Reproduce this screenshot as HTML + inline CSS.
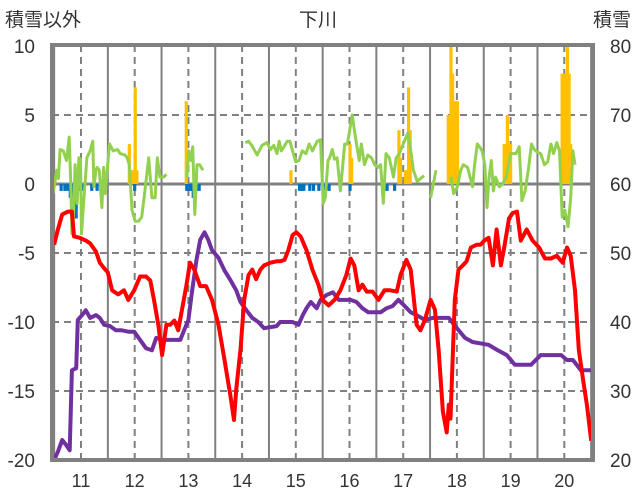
<!DOCTYPE html>
<html><head><meta charset="utf-8"><style>
html,body{margin:0;padding:0;background:#fff;}
svg{display:block;font-family:"Liberation Sans","Noto Sans CJK JP",sans-serif;}
</style></head><body>
<svg id="chart" width="636" height="501" viewBox="0 0 636 501" xmlns="http://www.w3.org/2000/svg">
<text x="5" y="26" font-size="19" fill="#333">積雪以外</text>
<text x="318" y="26" font-size="19" fill="#333" text-anchor="middle">下川</text>
<text x="631" y="26" font-size="19" fill="#333" text-anchor="end">積雪</text>
<g id="grid"></g><g id="bars"></g><g id="lines"></g><g id="axes"></g>
</svg>
<script>
const xTicks=[11,12,13,14,15,16,17,18,19,20];
const yTicksLeft=[10,5,0,-5,-10,-15,-20];
const yTicksRight=[80,70,60,50,40,30,20];
const redT=[10.50,10.57,10.65,10.76,10.83,10.87,10.98,11.09,11.17,11.28,11.35,11.43,11.50,11.58,11.69,11.80,11.88,11.99,12.10,12.21,12.29,12.36,12.44,12.51,12.59,12.66,12.74,12.81,12.88,12.96,13.03,13.11,13.22,13.33,13.44,13.56,13.67,13.78,13.85,13.89,13.97,14.04,14.12,14.19,14.26,14.34,14.41,14.53,14.64,14.71,14.79,14.86,14.94,15.01,15.09,15.20,15.31,15.42,15.50,15.61,15.72,15.83,15.94,16.02,16.09,16.17,16.24,16.32,16.43,16.54,16.65,16.76,16.88,16.95,17.06,17.14,17.25,17.32,17.40,17.51,17.59,17.66,17.74,17.81,17.85,17.88,17.96,18.03,18.11,18.18,18.26,18.37,18.44,18.51,18.59,18.67,18.74,18.82,18.89,18.97,19.04,19.12,19.19,19.30,19.41,19.53,19.64,19.75,19.86,19.97,20.05,20.12,20.20,20.27,20.35,20.42,20.50];
const redV=[-4.4,-3.3,-2.2,-2.0,-2.0,-3.8,-3.9,-4.1,-4.3,-4.9,-5.7,-6.1,-6.4,-7.7,-8.0,-7.7,-8.4,-7.7,-6.7,-6.7,-7.0,-8.4,-10.2,-12.4,-10.2,-10.2,-9.9,-10.6,-9.1,-7.4,-5.7,-6.2,-7.4,-7.4,-8.4,-10.2,-12.7,-15.3,-17.1,-14.9,-12.0,-8.4,-6.6,-6.2,-6.9,-6.2,-5.9,-5.7,-5.6,-5.6,-5.5,-4.8,-3.7,-3.5,-3.8,-4.8,-6.2,-7.3,-8.4,-8.8,-8.4,-7.7,-6.6,-5.4,-5.9,-7.7,-7.3,-7.8,-7.8,-8.4,-7.7,-7.7,-7.8,-6.6,-5.5,-6.2,-10.2,-10.6,-9.9,-8.4,-9.1,-12.0,-16.5,-18.0,-16.0,-17.0,-8.4,-6.2,-5.9,-5.6,-4.6,-4.4,-4.4,-4.1,-3.9,-5.9,-3.3,-5.9,-4.4,-2.5,-2.1,-2.0,-4.1,-3.3,-4.1,-4.6,-5.4,-5.4,-5.2,-5.7,-4.6,-5.2,-7.7,-12.0,-14.2,-16.0,-18.6];
const purpleT=[10.50,10.57,10.65,10.72,10.79,10.83,10.91,10.94,11.02,11.09,11.17,11.28,11.35,11.43,11.54,11.65,11.76,11.88,11.99,12.10,12.21,12.32,12.40,12.51,12.62,12.85,12.92,13.00,13.07,13.15,13.22,13.30,13.37,13.44,13.56,13.67,13.78,13.89,13.97,14.08,14.19,14.30,14.41,14.64,14.71,14.94,15.05,15.13,15.20,15.28,15.39,15.46,15.57,15.69,15.80,16.02,16.13,16.24,16.35,16.58,16.69,16.80,16.91,17.03,17.14,17.25,17.40,17.55,17.85,18.00,18.15,18.29,18.59,18.74,18.93,19.08,19.38,19.56,19.94,20.05,20.16,20.31,20.50];
const purpleSnow=[20.0,21.2,22.9,22.2,21.4,33.0,33.3,40.3,41.0,41.7,40.6,41.0,40.6,39.6,39.4,38.8,38.8,38.6,38.6,37.4,36.2,35.9,37.7,37.4,37.4,37.4,38.8,40.3,44.6,49.0,51.9,53.0,51.9,50.4,49.3,47.5,46.1,44.6,42.9,41.7,40.6,40.0,39.1,39.4,40.0,40.0,39.6,41.0,42.0,42.9,42.0,43.2,43.9,44.3,43.2,43.2,42.9,42.0,41.4,41.4,42.0,42.3,43.2,42.3,41.4,41.0,40.3,40.6,40.6,39.1,37.7,37.1,36.7,36.0,35.2,33.8,33.8,35.2,35.2,34.5,34.5,33.0,33.0];
const greenT=[10.48,10.55,10.58,10.61,10.67,10.73,10.78,10.81,10.83,10.86,10.89,10.93,10.96,10.99,11.01,11.04,11.11,11.17,11.22,11.24,11.28,11.30,11.34,11.39,11.42,11.45,11.53,11.60,11.68,11.73,11.82,11.86,11.90,11.95,12.01,12.07,12.13,12.19,12.26,12.32,12.38,12.42,12.47,12.54,12.59,null,12.97,13.01,13.05,13.08,13.12,13.16,13.21,13.27,null,14.06,14.12,14.18,14.28,14.37,14.46,14.53,14.59,14.65,14.69,14.73,14.78,14.84,14.89,14.94,15.00,15.06,15.12,15.19,15.25,15.31,15.40,15.46,15.51,15.55,15.60,15.63,15.68,15.72,15.77,15.83,15.91,15.96,16.05,16.11,16.18,16.22,16.28,16.34,16.41,16.47,16.53,16.58,16.63,16.68,16.74,16.82,16.87,16.93,17.00,17.09,17.13,17.19,17.26,17.39,null,17.51,17.61,null,17.89,17.94,18.01,18.07,18.12,18.20,18.29,18.33,18.38,18.42,18.47,18.52,18.56,18.60,18.64,18.68,18.72,18.79,18.85,18.92,19.00,19.10,19.16,19.21,19.27,19.33,19.39,19.44,19.50,19.56,19.63,19.69,19.75,19.80,19.86,19.91,19.96,20.01,20.07,20.12,20.16,20.20];
const greenV=[-0.7,1.0,0.4,2.5,2.4,1.7,3.4,0,-3.6,-2.4,1.4,-1.4,1.9,1.8,-3.6,-1.9,1.9,2.4,3.1,-0.2,1.0,1.2,1.0,-1.7,1.2,-0.7,2.9,2.4,2.5,2.2,2.1,1.9,1.4,-1.9,-2.7,-2.7,-2.4,-0.5,1.9,-1.0,-1.0,1.9,0.5,0.5,0.7,null,0.5,2.4,1.7,2.7,-2.2,1.4,1.4,1.0,null,3.0,3.1,2.8,2.1,2.8,3.0,2.5,2.8,2.2,3.1,2.4,2.7,3.1,3.1,2.4,1.6,1.7,2.4,2.2,2.9,2.4,3.1,3.2,-1.4,-1.0,1.7,1.9,2.5,1.8,1.9,-0.5,2.9,2.9,5.0,3.4,1.7,2.9,1.4,2.1,1.9,1.4,1.2,1.4,-1.4,2.2,1.9,0.5,1.9,2.2,2.9,3.7,2.7,1.0,0.2,0.6,null,-1.0,1.0,null,0.5,-0.7,-0.2,1.0,1.4,1.2,-0.2,1.4,2.9,2.7,2.4,1.4,-1.7,0.5,1.7,-0.5,0.5,-0.2,0,0.5,2.2,2.2,2.7,-1.2,-0.5,1.0,2.9,2.5,2.3,2.2,1.4,1.6,2.9,2.2,3.0,2.4,-2.4,-1.9,-3.1,-1.0,2.4,1.4];
const orangeT=[11.90,11.93,11.96,11.99,12.01,12.04,12.96,14.91,16.01,16.04,16.92,16.95,17.04,17.07,17.10,17.13,17.84,17.87,17.89,17.92,17.95,17.98,18.01,18.88,18.91,18.94,18.97,19.00,19.96,19.98,20.01,20.04,20.06,20.09,20.12];
const orangeV=[2.9,1.0,1.0,1.0,7.0,1.0,6.0,1.0,2.9,1.9,3.9,1.9,1.0,1.0,7.0,3.9,5.0,5.0,10,8.0,6.0,6.0,6.0,2.9,2.9,5.0,2.9,2.9,8.0,6.0,8.0,7.0,10,8.0,2.9];
const blueT=[10.63,10.70,10.76,10.80,10.84,10.88,10.91,10.95,11.00,11.05,11.20,11.30,12.00,12.97,13.03,13.06,13.09,13.12,13.15,13.20,15.07,15.12,15.15,15.26,15.33,15.43,15.52,15.62,16.01,16.70,16.84];
const blueV=[-0.5,-0.5,-0.5,-1.0,-2.9,-0.5,-2.5,-0.5,-0.5,-0.5,-0.5,-0.5,-0.5,-0.5,-0.5,-0.5,-1.0,-0.5,-0.5,-0.5,-0.5,-0.5,-0.5,-0.5,-0.5,-0.5,-0.5,-0.5,-0.5,-0.5,-0.5];

const NS='http://www.w3.org/2000/svg';
const L=52,R=593,T=45,B=460;
const xS=t=>81+(t-11)*53.7;
const yS=v=>184-v*13.8;
const yR=s=>yS((s-60)/2);
function mk(tag,attrs,parent){const e=document.createElementNS(NS,tag);for(const k in attrs)e.setAttribute(k,attrs[k]);parent.appendChild(e);return e;}
const grid=document.getElementById('grid'),bars=document.getElementById('bars'),lines=document.getElementById('lines'),axes=document.getElementById('axes');
// vertical gridlines
xTicks.forEach(t=>{
  const d=mk('line',{x1:xS(t),x2:xS(t),y1:T,y2:B,stroke:'#808080','stroke-width':2,'stroke-dasharray':'7,5'},grid);
  
  
  if(xS(t+0.5)<R){const s=mk('line',{x1:xS(t+0.5),x2:xS(t+0.5),y1:T,y2:B,stroke:'#808080','stroke-width':2},grid);
  
  }
  const tx=mk('text',{x:xS(t),y:487,'font-size':18,fill:'#333','text-anchor':'middle'},axes);tx.textContent=t;
  
  
});
// extra boundary before 11
{const s=mk('line',{x1:xS(10.5),x2:xS(10.5),y1:T,y2:B,stroke:'#808080','stroke-width':2},grid);

}
yTicksLeft.forEach(v=>{
  if(v!==10&&v!==-20&&v!==0){const g=mk('line',{x1:L,x2:R,y1:yS(v),y2:yS(v),stroke:'#808080','stroke-width':2,'stroke-dasharray':'7,5'},grid);
  
  }
  const tx=mk('text',{x:35,y:yS(v)+7,'font-size':19,fill:'#333','text-anchor':'end'},axes);tx.textContent=v;
  
  
});
yTicksRight.forEach(s=>{
  const tx=mk('text',{x:610,y:yR(s)+7,'font-size':19,fill:'#333'},axes);tx.textContent=s;
  
  
});
const bw=3.2;
orangeT.forEach((t,i)=>{const r=mk('rect',{x:xS(t)-bw/2,y:yS(orangeV[i]),width:bw,height:yS(0)-yS(orangeV[i]),fill:'#ffc000'},bars);

});
blueT.forEach((t,i)=>{const r=mk('rect',{x:xS(t)-bw/2,y:yS(0),width:bw,height:yS(blueV[i])-yS(0),fill:'#0070c0'},bars);

});
const zero=mk('line',{x1:L,x2:R,y1:yS(0),y2:yS(0),stroke:'#808080','stroke-width':3},grid);


function path(ts,vs,ys){let d='',pen=false;ts.forEach((t,i)=>{if(t===null||vs[i]===null){pen=false;return;}d+=(pen?'L':'M')+xS(t).toFixed(1)+','+ys(vs[i]).toFixed(1);pen=true;});return d;}
const g=mk('path',{d:path(greenT,greenV,yS),fill:'none',stroke:'#92d050','stroke-width':3,'stroke-linejoin':'round'},lines);


const p=mk('path',{d:path(purpleT,purpleSnow,yR),fill:'none',stroke:'#7030a0','stroke-width':4,'stroke-linejoin':'round'},lines);


const r=mk('path',{d:path(redT,redV,yS),fill:'none',stroke:'#ff0000','stroke-width':4,'stroke-linejoin':'round'},lines);


const f=mk('rect',{x:L,y:T,width:R-L,height:B-T,fill:'none',stroke:'#808080','stroke-width':4},axes);


</script>
</body></html>
